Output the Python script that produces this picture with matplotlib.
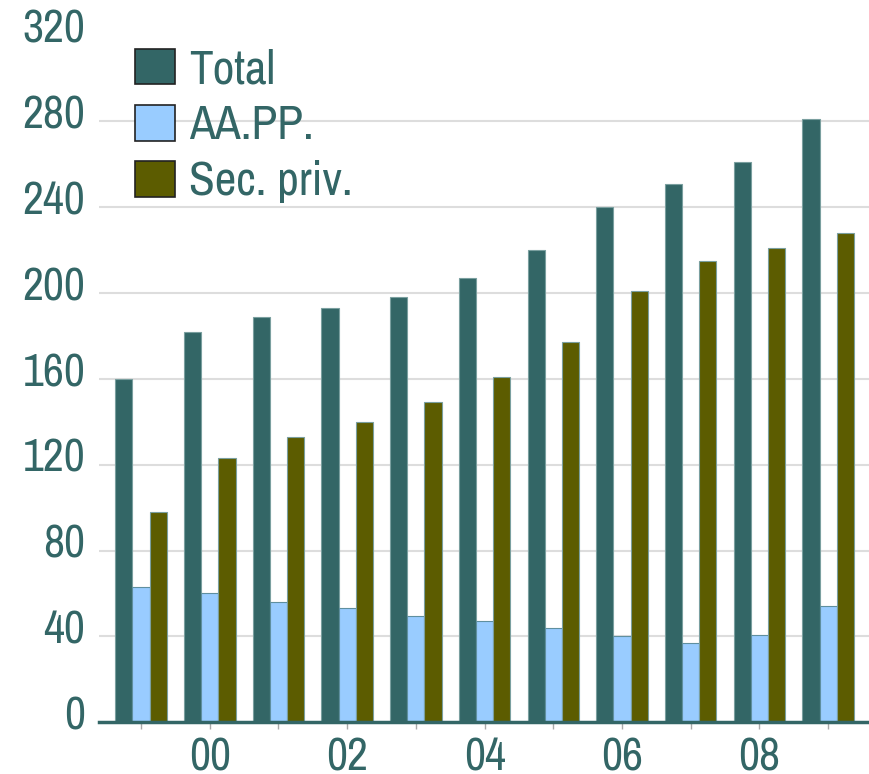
import matplotlib
matplotlib.use("Agg")
import matplotlib.pyplot as plt
import matplotlib.transforms as mtransforms
import numpy as np
from matplotlib.patches import Patch

years = ["99", "00", "01", "02", "03", "04", "05", "06", "07", "08", "09"]
tick_labels = ["", "00", "", "02", "", "04", "", "06", "", "08", ""]
total = [160, 182, 189, 193, 198, 207, 220, 240, 251, 261, 281]
aapp = [63, 60, 56, 53, 49.5, 47, 44, 40, 37, 40.5, 54]
sec_priv = [98, 123, 133, 140, 149, 161, 177, 201, 215, 221, 228]
series_names = ["Total", "AA.PP.", "Sec. priv."]
yticks = [0, 40, 80, 120, 160, 200, 240, 280, 320]

c_total = "#336666"
c_aapp = "#99CCFF"
c_sec = "#5C5C00"
txt = "#336666"

plt.rcParams['font.family'] = ['Archivo Narrow', 'DejaVu Sans']

fig = plt.figure(figsize=(8.7, 7.74), dpi=100)
ax = fig.add_axes([0.114, 0.067, 0.886, 0.887])

x = np.arange(len(years))
w = 0.25
ax.bar(x - w, total, w, color=c_total, edgecolor="#7a9f9f", linewidth=0.8, zorder=3)
ax.bar(x, aapp, w, color=c_aapp, edgecolor="#5f8f9f", linewidth=0.8, zorder=3)
ax.bar(x + w, sec_priv, w, color=c_sec, edgecolor="#7a9f9f", linewidth=0.8, zorder=3)

ax.set_ylim(0, 320)
ax.set_xlim(-0.61, 10.61)
ax.set_yticks(yticks)
ax.set_yticklabels([str(v) for v in yticks])
ax.set_xticks(x)
ax.set_xticklabels(tick_labels)

ax.tick_params(axis='y', length=0, pad=10, labelsize=33, labelcolor=txt)
ax.tick_params(axis='x', length=5, width=1, color="#aaaaaa", pad=5, labelsize=33, labelcolor=txt)

offset = mtransforms.ScaledTranslation(0, 7 / 72, fig.dpi_scale_trans)
for lab in ax.get_yticklabels():
    lab.set_transform(lab.get_transform() + offset)

ax.yaxis.grid(True, color="#dddddd", linewidth=1.5, zorder=0)
ax.set_axisbelow(True)
gl = ax.yaxis.get_gridlines()
gl[0].set_visible(False)
gl[-1].set_visible(False)

for s in ["top", "right", "left"]:
    ax.spines[s].set_visible(False)
ax.spines["bottom"].set_color(c_total)
ax.spines["bottom"].set_linewidth(2.5)
ax.spines["bottom"].set_zorder(4)

handles = [Patch(facecolor=c, edgecolor="#222222", linewidth=1.2)
           for c in (c_total, c_aapp, c_sec)]
leg = ax.legend(handles, series_names, loc="upper left",
                bbox_to_anchor=(135 / 870, 1 - 48 / 774),
                bbox_transform=fig.transFigure, frameon=False,
                fontsize=34, handlelength=0.85, handleheight=0.78,
                handletextpad=0.3, labelspacing=0.28, borderpad=0, borderaxespad=0)
for t in leg.get_texts():
    t.set_color(txt)

fig.savefig("out.png", dpi=100)
